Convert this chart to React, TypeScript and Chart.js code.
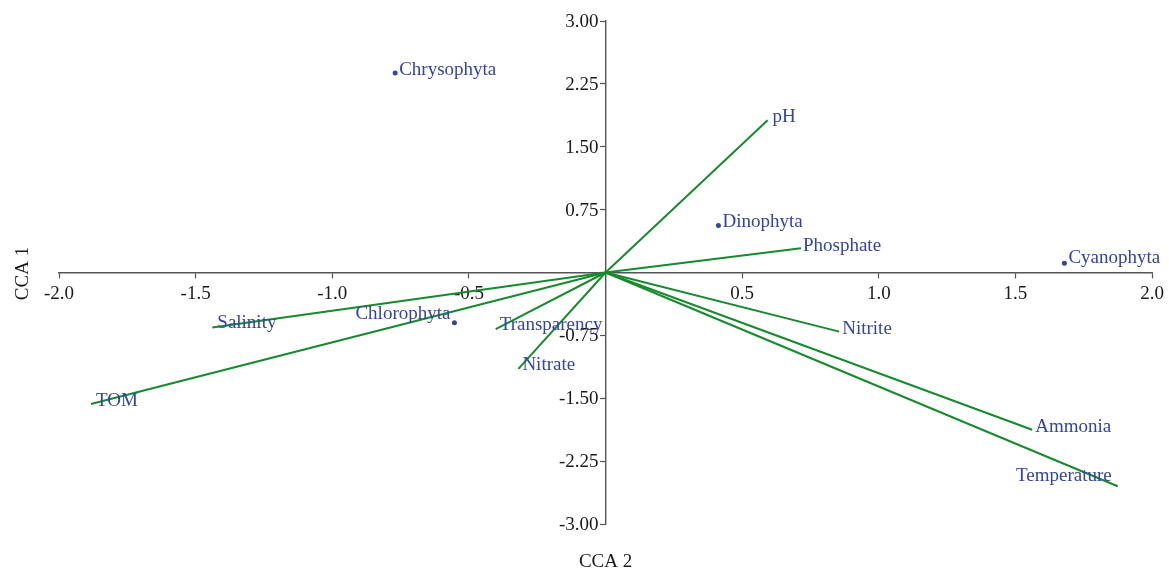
import React, { useEffect, useRef } from "react";
import { Chart, registerables } from "chart.js";

Chart.register(...registerables);

// Environmental vectors (end points, origin at 0,0)
const vectorNames = ["pH", "Phosphate", "Nitrite", "Ammonia", "Temperature", "TOM", "Salinity", "Transparency", "Nitrate"];
const vectorX = [0.593, 0.715, 0.855, 1.561, 1.874, -1.883, -1.439, -0.402, -0.319];
const vectorY = [1.815, 0.288, -0.705, -1.875, -2.55, -1.569, -0.657, -0.676, -1.149];

// Species scores
const speciesNames = ["Chrysophyta", "Dinophyta", "Cyanophyta", "Chlorophyta"];
const speciesX = [-0.77, 0.413, 1.679, -0.553];
const speciesY = [2.379, 0.562, 0.11, -0.598];

// Axis ticks
const xTicks = [-2, -1.5, -1, -0.5, 0, 0.5, 1, 1.5, 2];
const yTicks = [-3, -2.25, -1.5, -0.75, 0, 0.75, 1.5, 2.25, 3];
const xTitle = "CCA 2";
const yTitle = "CCA 1";

// Label placement (pixel offsets from mark, alignment)
const labelPlacement: Record<string, [number, number, CanvasTextAlign]> = {
  pH: [5, -3, "left"],
  Phosphate: [2, -2, "left"],
  Nitrite: [3, -3, "left"],
  Ammonia: [3, -3, "left"],
  Temperature: [-6, -10, "right"],
  TOM: [5, -3, "left"],
  Salinity: [5, -5, "left"],
  Transparency: [4, -4, "left"],
  Nitrate: [4, -4, "left"],
  Chrysophyta: [4, -3, "left"],
  Dinophyta: [4, -3, "left"],
  Cyanophyta: [4, -5, "left"],
  Chlorophyta: [-4, -9, "right"],
};

const FONT = "'Liberation Serif', 'Times New Roman', serif";
const GREEN = "#178a2e";
const BLUE = "#3444a2";
const AXIS = "#555555";
const TEXT = "#1a1a1a";

const labelsPlugin = {
  id: "biplotLabels",
  afterDraw(chart: any) {
    const { ctx, scales, chartArea } = chart;
    const xs = scales.x;
    const ys = scales.y;
    ctx.save();
    ctx.font = `19px ${FONT}`;
    ctx.textBaseline = "middle";

    // y tick labels, left of the centred axis
    ctx.fillStyle = TEXT;
    ctx.textAlign = "right";
    const axisX = xs.getPixelForValue(0);
    yTicks.forEach((v) => {
      if (v === 0) return;
      ctx.fillText(v.toFixed(2), axisX - 7, ys.getPixelForValue(v) + 1);
    });

    ctx.fillStyle = BLUE;
    const draw = (name: string, vx: number, vy: number) => {
      const [dx, dy, align] = labelPlacement[name] || [4, -3, "left"];
      ctx.textAlign = align;
      ctx.fillText(name, xs.getPixelForValue(vx) + dx, ys.getPixelForValue(vy) + dy);
    };
    vectorNames.forEach((n, i) => draw(n, vectorX[i], vectorY[i]));
    speciesNames.forEach((n, i) => draw(n, speciesX[i], speciesY[i]));

    // axis titles
    ctx.fillStyle = TEXT;
    ctx.textAlign = "center";
    ctx.fillText(xTitle, (chartArea.left + chartArea.right) / 2, 562);
    ctx.save();
    ctx.translate(23, (chartArea.top + chartArea.bottom) / 2 + 1);
    ctx.rotate(-Math.PI / 2);
    ctx.fillText(yTitle, 0, 0);
    ctx.restore();
    ctx.restore();
  },
};

export default function App() {
  const canvasRef = useRef<HTMLCanvasElement | null>(null);

  useEffect(() => {
    if (!canvasRef.current) return;
    const vectorDatasets = vectorNames.map((n, i) => ({
      label: n,
      data: [
        { x: 0, y: 0 },
        { x: vectorX[i], y: vectorY[i] },
      ],
      showLine: true,
      borderColor: GREEN,
      borderWidth: 2,
      pointRadius: 0,
      pointHoverRadius: 0,
      fill: false,
    }));
    const speciesDataset = {
      label: "Species",
      data: speciesX.map((x, i) => ({ x, y: speciesY[i] })),
      showLine: false,
      pointRadius: 2.5,
      pointBackgroundColor: BLUE,
      pointBorderWidth: 0,
      borderColor: BLUE,
    };

    const chart = new Chart(canvasRef.current, {
      type: "scatter",
      data: { datasets: [...vectorDatasets, speciesDataset] as any },
      options: {
        animation: false,
        responsive: true,
        maintainAspectRatio: false,
        layout: { padding: { left: 59, right: 14, top: 21, bottom: 48 } },
        plugins: {
          legend: { display: false },
          tooltip: { enabled: false },
        },
        scales: {
          x: {
            type: "linear",
            position: { y: 0 } as any,
            min: -2,
            max: 2,
            afterBuildTicks: (scale: any) => {
              scale.ticks = xTicks.map((v) => ({ value: v }));
            },
            grid: {
              drawOnChartArea: false,
              drawTicks: true,
              tickLength: 5,
              tickColor: AXIS,
              tickWidth: 1.2,
            },
            border: { display: true, color: AXIS, width: 1.4 },
            ticks: {
              autoSkip: false,
              maxRotation: 0,
              padding: 5,
              color: TEXT,
              font: { family: FONT, size: 19 },
              callback: (v: any) => (Number(v) === 0 ? "" : Number(v).toFixed(1)),
            },
          },
          y: {
            type: "linear",
            position: { x: 0 } as any,
            min: -3,
            max: 3,
            afterBuildTicks: (scale: any) => {
              scale.ticks = yTicks.map((v) => ({ value: v }));
            },
            grid: {
              drawOnChartArea: false,
              drawTicks: true,
              tickLength: 5,
              tickColor: AXIS,
              tickWidth: 1.2,
            },
            border: { display: true, color: AXIS, width: 1.4 },
            ticks: {
              display: false,
            },
          },
        },
      },
      plugins: [labelsPlugin],
    });
    return () => chart.destroy();
  }, []);

  return (
    <div style={{ position: "fixed", left: 0, top: 0, width: 1169, height: 572, background: "#fff" }}>
      <canvas ref={canvasRef} />
    </div>
  );
}
